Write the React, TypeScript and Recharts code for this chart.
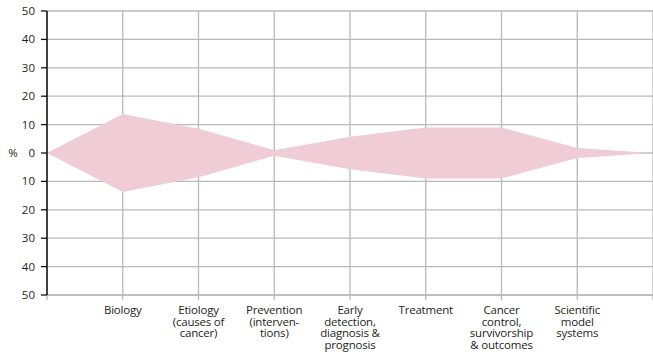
import { AreaChart, Area, CartesianGrid, XAxis, YAxis } from "recharts";

const categories = [
  "",
  "Biology",
  "Etiology\n(causes of\ncancer)",
  "Prevention\n(interven-\ntions)",
  "Early\ndetection,\ndiagnosis &\nprognosis",
  "Treatment",
  "Cancer\ncontrol,\nsurvivorship\n& outcomes",
  "Scientific\nmodel\nsystems",
  " ",
];

// half-width of the band, in %
const shares = [0, 13.7, 8.5, 1, 5.7, 9, 9, 1.8, 0];

const yTicks = [-50, -40, -30, -20, -10, 0, 10, 20, 30, 40, 50];

const data = categories.map((name, i) => ({ name, band: [-shares[i], shares[i]] }));

const FONT = "'Open Sans', sans-serif";

function XTick({ x, y, payload }: any) {
  const lines = String(payload.value).split("\n");
  return (
    <g>
      {lines.map((line, i) => (
        <text
          key={i}
          x={x}
          y={y + 12 + i * 11.7}
          textAnchor="middle"
          fontSize={11.5}
          fill="#231f20"
          fontFamily={FONT}
          letterSpacing={-0.2}
        >
          {line}
        </text>
      ))}
    </g>
  );
}

function YTick({ x, y, payload }: any) {
  return (
    <g>
      <text x={x} y={y + 4} textAnchor="end" fontSize={11.5} fill="#231f20" fontFamily={FONT}>
        {Math.abs(payload.value)}
      </text>
      {payload.value === 0 ? (
        <text x={13} y={y + 4} textAnchor="middle" fontSize={11.5} fill="#231f20" fontFamily={FONT}>
          %
        </text>
      ) : null}
    </g>
  );
}

export default function App() {
  return (
    <div style={{ position: "absolute", left: 0, top: 0 }}>
      <AreaChart width={653} height={360} data={data} margin={{ top: 11, right: 0, left: 0, bottom: 0 }}>
        <CartesianGrid stroke="#b8b9bb" strokeWidth={1.3} />
        <XAxis
          dataKey="name"
          interval={0}
          height={65}
          tick={<XTick />}
          tickSize={5}
          axisLine={{ stroke: "#b8b9bb", strokeWidth: 1.3 }}
          tickLine={{ stroke: "#b8b9bb", strokeWidth: 1.3 }}
        />
        <YAxis
          type="number"
          domain={[-50, 50]}
          ticks={yTicks}
          width={47}
          tickSize={6}
          tickMargin={6}
          tick={<YTick />}
          axisLine={{ stroke: "#111", strokeWidth: 1.5 }}
          tickLine={{ stroke: "#111", strokeWidth: 1.3 }}
        />
        <Area
          type="linear"
          dataKey="band"
          stroke="none"
          fill="#efccd6"
          fillOpacity={1}
          isAnimationActive={false}
        />
      </AreaChart>
    </div>
  );
}
